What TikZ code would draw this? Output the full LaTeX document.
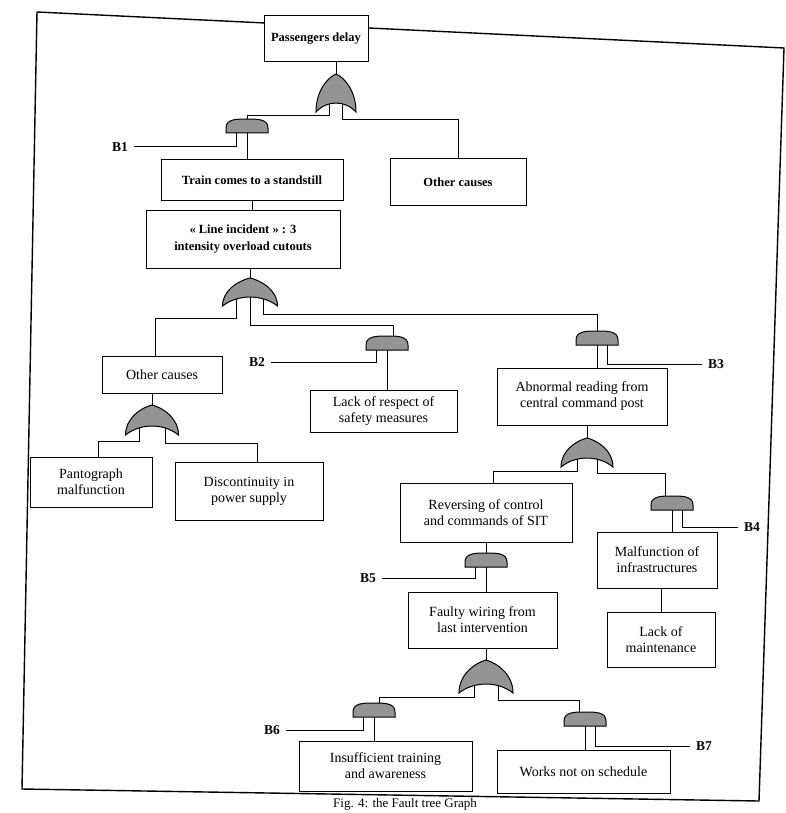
\documentclass[tikz,border=0pt]{standalone}
\usepackage{fontspec}
\setmainfont{Liberation Serif}
\usetikzlibrary{calc}
\tikzset{
  box/.style={draw, line width=1pt, fill=white, align=center, inner sep=2pt},
  topfont/.style={font=\fontsize{12.5}{16.5}\selectfont\bfseries},
  lowfont/.style={font=\fontsize{14}{16}\selectfont},
  blab/.style={font=\fontsize{13.5}{15}\selectfont\bfseries, inner sep=6pt},
  conn/.style={line width=1pt},
  gatefill/.style={draw, line width=1pt, fill=black!42},
  pics/orgate/.style n args={4}{code={
    \path[gatefill] (-#1/2,0) .. controls (-#1/2,-0.55*#2) and (-0.22*#1,-0.9*#2) .. (0,-#2)
      .. controls (0.22*#1,-0.9*#2) and (#1/2,-0.55*#2) .. (#1/2,0)
      .. controls (0.22*#1,-1.33*#3) and (-0.22*#1,-1.33*#3) .. cycle;
    \coordinate (-top) at (0,-#2+3);
    \coordinate (-l) at (-#4,-#3-1);
    \coordinate (-m) at (0,-#3-1);
    \coordinate (-r) at (#4,-#3-1);
  }},
  pics/bgate/.style n args={2}{code={
    \path[gatefill] (-#1/2,0) -- (-#1/2,-0.35*#2) .. controls (-#1/2,-#2) and (-0.25*#1,-#2) .. (0,-#2)
      .. controls (0.25*#1,-#2) and (#1/2,-#2) .. (#1/2,-0.35*#2) -- (#1/2,0) -- cycle;
    \coordinate (-top) at (0,-#2+3);
    \coordinate (-bot) at (0,-2);
    \coordinate (-l) at (-#1/4,-2);
    \coordinate (-r) at (#1/4,-2);
  }},
}
\begin{document}
\begin{tikzpicture}[x=1pt,y=-1pt]
\useasboundingbox[fill=white] (0,0) rectangle (785,813);

% frame
\draw[line width=1.4pt] (37,12) -- (784,48) -- (759,801) -- (22,789) -- cycle;

% boxes (defined first for coordinates, redrawn on top later)
\path
  node[box,topfont,minimum width=104,minimum height=46] (pd) at (316,39) {Passengers delay}
  node[box,topfont,minimum width=182,minimum height=40] (train) at (252,180) {Train comes to a standstill}
  node[box,topfont,minimum width=194,minimum height=58] (line) at (243,239) {« Line incident » : 3\\intensity overload cutouts}
  node[box,topfont,minimum width=136,minimum height=46] (oct) at (458,182) {Other causes}
  node[box,lowfont,minimum width=120,minimum height=37] (ocm) at (162,374.5) {Other causes}
  node[box,lowfont,minimum width=122,minimum height=50] (pant) at (91,482) {Pantograph\\malfunction}
  node[box,lowfont,minimum width=148,minimum height=58] (disc) at (249,491) {Discontinuity in\\power supply}
  node[box,lowfont,minimum width=147,minimum height=42] (lack) at (383.5,411) {Lack of respect of\\safety measures}
  node[box,lowfont,minimum width=170,minimum height=57] (abn) at (582,396.5) {Abnormal reading from\\central command post}
  node[box,lowfont,minimum width=172,minimum height=59] (rev) at (486,512.5) {Reversing of control\\and commands of SIT}
  node[box,lowfont,minimum width=120,minimum height=56] (malf) at (657,560) {Malfunction of\\infrastructures}
  node[box,lowfont,minimum width=108,minimum height=55] (lmaint) at (661,639.5) {Lack of\\maintenance}
  node[box,lowfont,minimum width=149,minimum height=56] (faulty) at (482.5,620) {Faulty wiring from\\last intervention}
  node[box,lowfont,minimum width=173,minimum height=50] (insuf) at (385.5,766) {Insufficient training\\and awareness}
  node[box,lowfont,minimum width=173,minimum height=43] (works) at (583.5,771.5) {Works not on schedule};

% labels
\node[blab] (lB1) at (120,147) {B1};
\node[blab] (lB2) at (257,362) {B2};
\node[blab] (lB3) at (716,364) {B3};
\node[blab] (lB4) at (752,527) {B4};
\node[blab] (lB5) at (368,578) {B5};
\node[blab] (lB6) at (272,730) {B6};
\node[blab] (lB7) at (704,746) {B7};

% gate coordinates (shapes drawn after connectors)
\begin{scope}[opacity=0]
\pic (g0) at (336,112) {orgate={40}{38}{9}{6.5}};
\pic (g2) at (250,306) {orgate={55}{28}{9}{13.5}};
\pic (g3) at (152,435) {orgate={53}{30}{9}{13}};
\pic (g4) at (587,467) {orgate={52}{29}{9}{10}};
\pic (g5) at (486,693) {orgate={54}{33}{9}{12}};
\pic (gB1) at (247,133) {bgate={42}{14}};
\pic (gB2) at (387,350) {bgate={42}{14}};
\pic (gB3) at (597,345) {bgate={42}{14}};
\pic (gB4) at (672,510) {bgate={42}{14}};
\pic (gB5) at (486,567) {bgate={42}{14}};
\pic (gB6) at (374,717) {bgate={42}{14}};
\pic (gB7) at (585,726) {bgate={42}{14}};
\end{scope}

% connectors
\begin{scope}[conn]
\draw (g0-top |- pd.south) -- (g0-top);
\draw (g0-l) -- ++(0,14) -| (gB1-top);
\draw (g0-r) -- ++(0,18) -| (oct.north);
\draw (gB1-bot) -- (gB1-bot |- train.north);
\draw (gB1-l) |- (lB1.east);
\draw (train.south) -- (train.south |- line.north);
\draw (g2-top |- line.south) -- (g2-top);
\draw (g2-l) -- ++(0,22) -| ([xshift=-7pt]ocm.north);
\draw (g2-m) -- ++(0,29) -| ([xshift=6pt]gB2-top);
\draw (g2-r) -- ++(0,18) -| (gB3-top);
\draw (gB2-bot) -- (gB2-bot |- lack.north);
\draw (gB2-l) |- (lB2.east);
\draw (g3-top |- ocm.south) -- (g3-top);
\draw (g3-l) -- ++(0,16) -| ([xshift=7pt]pant.north);
\draw (g3-r) -- ++(0,18) -| ([xshift=8pt]disc.north);
\draw (gB3-bot) -- (gB3-bot |- abn.north);
\draw (gB3-r) |- (lB3.west);
\draw (g4-top |- abn.south) -- (g4-top);
\draw (g4-l) -- ++(0,14) -| ([xshift=7pt]rev.north);
\draw (g4-r) -- ++(0,16) -| ([xshift=-7pt]gB4-top);
\draw (gB4-bot) -- (gB4-bot |- malf.north);
\draw (gB4-r) |- (lB4.west);
\draw (lmaint.north |- malf.south) -- (lmaint.north);
\draw (gB5-top |- rev.south) -- (gB5-top);
\draw (gB5-bot) -- (gB5-bot |- faulty.north);
\draw (gB5-l) |- (lB5.east);
\draw (g5-top |- faulty.south) -- (g5-top);
\draw (g5-l) -- ++(0,14) -| ([xshift=5pt]gB6-top);
\draw (g5-r) -- ++(0,17) -| ([xshift=-6pt]gB7-top);
\draw (gB6-bot) -- (gB6-bot |- insuf.north);
\draw (gB6-l) |- (lB6.east);
\draw (gB7-bot) -- (gB7-bot |- works.north);
\draw (gB7-r) |- (lB7.west);
\end{scope}

% gate shapes
\pic at (336,112) {orgate={40}{38}{9}{6.5}};
\pic at (250,306) {orgate={55}{28}{9}{13.5}};
\pic at (152,435) {orgate={53}{30}{9}{13}};
\pic at (587,467) {orgate={52}{29}{9}{10}};
\pic at (486,693) {orgate={54}{33}{9}{12}};
\pic at (247,133) {bgate={42}{14}};
\pic at (387,350) {bgate={42}{14}};
\pic at (597,345) {bgate={42}{14}};
\pic at (672,510) {bgate={42}{14}};
\pic at (486,567) {bgate={42}{14}};
\pic at (374,717) {bgate={42}{14}};
\pic at (585,726) {bgate={42}{14}};

% boxes on top
\path
  node[box,topfont,minimum width=104,minimum height=46] at (pd) {Passengers delay}
  node[box,topfont,minimum width=182,minimum height=40] at (train) {Train comes to a standstill}
  node[box,topfont,minimum width=194,minimum height=58] at (line) {« Line incident » : 3\\intensity overload cutouts}
  node[box,topfont,minimum width=136,minimum height=46] at (oct) {Other causes}
  node[box,lowfont,minimum width=120,minimum height=37] at (ocm) {Other causes}
  node[box,lowfont,minimum width=122,minimum height=50] at (pant) {Pantograph\\malfunction}
  node[box,lowfont,minimum width=148,minimum height=58] at (disc) {Discontinuity in\\power supply}
  node[box,lowfont,minimum width=147,minimum height=42] at (lack) {Lack of respect of\\safety measures}
  node[box,lowfont,minimum width=170,minimum height=57] at (abn) {Abnormal reading from\\central command post}
  node[box,lowfont,minimum width=172,minimum height=59] at (rev) {Reversing of control\\and commands of SIT}
  node[box,lowfont,minimum width=120,minimum height=56] at (malf) {Malfunction of\\infrastructures}
  node[box,lowfont,minimum width=108,minimum height=55] at (lmaint) {Lack of\\maintenance}
  node[box,lowfont,minimum width=149,minimum height=56] at (faulty) {Faulty wiring from\\last intervention}
  node[box,lowfont,minimum width=173,minimum height=50] at (insuf) {Insufficient training\\and awareness}
  node[box,lowfont,minimum width=173,minimum height=43] at (works) {Works not on schedule};

% caption
\node[font=\fontsize{13}{15}\selectfont, anchor=north west, inner sep=0pt] (cap) at (333,798) {Fig. 4: the Fault tree Graph};
\end{tikzpicture}
\end{document}
